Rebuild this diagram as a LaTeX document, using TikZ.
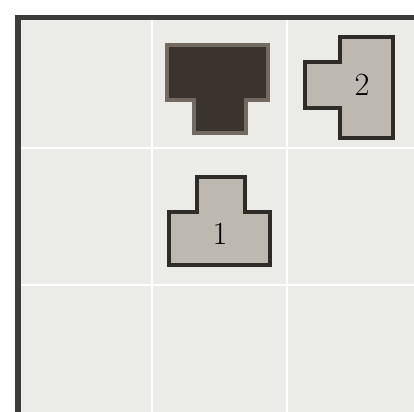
\documentclass[tikz,border=0pt]{standalone}
\definecolor{cellgray}{HTML}{EBEBE7}
\definecolor{framegray}{HTML}{3C3C3A}
\definecolor{piecefill}{HTML}{BDB8B0}
\definecolor{pieceedge}{HTML}{2E2B28}
\definecolor{tdark}{HTML}{3B342E}
\definecolor{tedge}{HTML}{736A62}
\begin{document}
\begin{tikzpicture}[x=0.025cm,y=-0.025cm,
    piece/.style={fill=piecefill, draw=pieceedge, line width=2.8pt, line join=miter},
    num/.style={font=\fontsize{23}{23}\selectfont, inner sep=0pt}]
  \useasboundingbox (0,0) rectangle (414,412);
  \fill[white] (0,0) rectangle (414,412);
  \fill[cellgray] (18,18) rectangle (414,412);
  % board lines
  \foreach \X in {152,287} {
    \draw[white, line width=2pt] (\X,20) -- (\X,412);
  }
  \foreach \Y in {148,285} {
    \draw[white, line width=2pt] (20,\Y) -- (414,\Y);
  }
  \draw[framegray, line width=4pt] (18,412) -- (18,17.5) -- (414,17.5);
  % dark T
  \draw[fill=tdark, draw=tedge, line width=2.8pt]
    (167,45) -- (268,45) -- (268,100) -- (246,100) -- (246,133)
    -- (194,133) -- (194,100) -- (167,100) -- cycle;
  % piece 2
  \draw[piece] (340,37) -- (393,37) -- (393,138) -- (340,138)
    -- (340,108) -- (305,108) -- (305,62) -- (340,62) -- cycle;
  \node[num] (two) at (362,85) {2};
  % piece 1
  \draw[piece] (197,177) -- (245,177) -- (245,212) -- (270,212)
    -- (270,265) -- (169,265) -- (169,212) -- (197,212) -- cycle;
  \node[num] (one) at (220,234) {1};
\end{tikzpicture}
\end{document}
